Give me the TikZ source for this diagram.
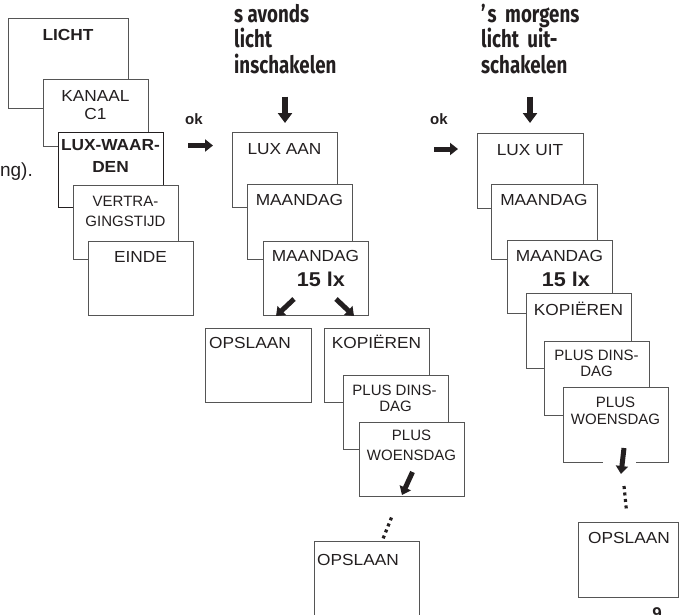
\documentclass[tikz,border=0pt]{standalone}
\usepackage{fontspec}
\setmainfont{Liberation Sans}
\newfontfamily\boxf{Liberation Sans}[FakeStretch=1.08]
\newfontfamily\plainf{Liberation Sans}
\newfontfamily\headf{Fira Sans}[FakeStretch=0.78]
\usetikzlibrary{arrows.meta}
\definecolor{ink}{HTML}{231F20}
\definecolor{frame}{HTML}{555555}
\tikzset{
 panel/.style={draw=frame, line width=0.9pt, fill=white, inner sep=0pt, anchor=north west},
 keypanel/.style={panel, draw=ink, line width=1.1pt},
 big/.style={inner sep=0pt, anchor=base, text=ink, font=\boxf\fontsize{16}{18}\selectfont},
 bigb/.style={big, font=\boxf\bfseries\fontsize{16}{18}\selectfont},
 small/.style={big, font=\plainf\fontsize{15}{17}\selectfont},
 lux/.style={big, font=\boxf\bfseries\fontsize{20}{24}\selectfont},
 head/.style={inner sep=0pt, anchor=base west, text=ink, font=\headf\bfseries\fontsize{24}{25.5}\selectfont},
 okl/.style={inner sep=0pt, anchor=base west, text=ink, font=\plainf\bfseries\fontsize{15}{18}\selectfont},
 fatarrow/.style={draw=ink, line width=5pt, -{Triangle[length=8pt,width=12pt]}},
 downarrow/.style={draw=ink, line width=6.5pt, -{Triangle[length=10pt,width=14pt]}},
 dotline/.style={draw=ink, line width=3.2pt, dash pattern=on 3pt off 3.5pt},
}
\begin{document}
\begin{tikzpicture}[x=1pt,y=-1pt]
\useasboundingbox (0,0) rectangle (679,614);
\clip (0,0) rectangle (679,614);

% partial text at left edge
\node[inner sep=0pt, anchor=base east, text=ink, font=\plainf\fontsize{19}{22}\selectfont] (ng) at (33,176) {ng).};

% ---------- left stack ----------
\node[panel, minimum width=120pt, minimum height=90pt] (L1) at (8,18) {};
\node[bigb] (L1a) at (68,40.5) {LICHT};
\node[panel, minimum width=105pt, minimum height=67pt] (L2) at (43,79) {};
\node[big] (L2a) at (95.5,101.5) {KANAAL};
\node[big] (L2b) at (95.5,119.5) {C1};
\node[keypanel, minimum width=105pt, minimum height=75pt] (L3) at (58,132) {};
\node[bigb] (L3a) at (110.5,150) {LUX-WAAR-};
\node[bigb] (L3b) at (110.5,172) {DEN};
\node[panel, minimum width=105pt, minimum height=74pt] (L4) at (73,185) {};
\node[small] (L4a) at (125.5,206.5) {VERTRA-};
\node[small] (L4b) at (125.5,226.5) {GINGSTIJD};
\node[panel, minimum width=105pt, minimum height=74pt] (L5) at (88,241) {};
\node[big] (L5a) at (140.5,262) {EINDE};

% ok arrows
\node[okl] (ok1) at (185,124) {ok};
\coordinate (ok1s) at (188,145.5);
\coordinate (ok1e) at (213,145.5);
\draw[fatarrow] (ok1s) -- (ok1e);
\node[okl] (ok2) at (430,124.5) {ok};
\coordinate (ok2s) at (434,149);
\coordinate (ok2e) at (458,149);
\draw[fatarrow] (ok2s) -- (ok2e);

% ---------- middle column ----------
\node[head, align=left] (H1) at (234,73) {s avonds\\licht\\inschakelen};
\coordinate (d1s) at (285,96.5);
\coordinate (d1e) at (285,123);
\draw[downarrow] (d1s) -- (d1e);

\node[panel, minimum width=105pt, minimum height=75pt] (M1) at (232,132) {};
\node[big] (M1a) at (284.5,154) {LUX AAN};
\node[panel, minimum width=105pt, minimum height=75pt] (M2) at (247,184) {};
\node[big] (M2a) at (299.5,205.5) {MAANDAG};
\node[panel, minimum width=105pt, minimum height=74pt] (M3) at (263,241) {};
\node[big] (M3a) at (315.5,261.5) {MAANDAG};
\node[lux] (M3b) at (321,286) {15 lx};
\coordinate (a1s) at (294,299);
\coordinate (a1e) at (276,316);
\draw[fatarrow] (a1s) -- (a1e);
\coordinate (a2s) at (336,299);
\coordinate (a2e) at (354,316);
\draw[fatarrow] (a2s) -- (a2e);

\node[panel, minimum width=106pt, minimum height=74pt] (M4) at (205,328) {};
\node[big, anchor=base west] (M4a) at (209,348) {OPSLAAN};
\node[panel, minimum width=105pt, minimum height=74pt] (M5) at (324,328) {};
\node[big] (M5a) at (376.5,348) {KOPIËREN};
\node[panel, minimum width=105pt, minimum height=74pt] (M6) at (343,375) {};
\node[small] (M6a) at (394.5,395) {PLUS DINS-};
\node[small] (M6b) at (395.5,411.5) {DAG};
\node[panel, minimum width=105pt, minimum height=74pt] (M7) at (359,422) {};
\node[small] (M7a) at (411.5,440) {PLUS};
\node[small] (M7b) at (411.5,460) {WOENSDAG};
\coordinate (a3s) at (412.5,472);
\coordinate (a3e) at (402,495);
\draw[fatarrow] (a3s) -- (a3e);
\coordinate (p1s) at (391.5,517.5);
\coordinate (p1e) at (382.5,540);
\draw[dotline] (p1s) -- (p1e);
\node[panel, minimum width=105pt, minimum height=110pt] (M8) at (314,541) {};
\node[big, anchor=base west] (M8a) at (317,565) {OPSLAAN};

% ---------- right column ----------
\node[head, align=left] (H2) at (481,73) {’\hspace{2pt}s\hspace{4pt} morgens\\licht\hspace{4pt} uit-\\schakelen};
\coordinate (d2s) at (530,96.5);
\coordinate (d2e) at (530,123);
\draw[downarrow] (d2s) -- (d2e);

\node[panel, minimum width=106pt, minimum height=75pt] (R1) at (477,133) {};
\node[big] (R1a) at (530,155) {LUX UIT};
\node[panel, minimum width=106pt, minimum height=75pt] (R2) at (491,184) {};
\node[big] (R2a) at (544,205.5) {MAANDAG};
\node[panel, minimum width=105pt, minimum height=73pt] (R3) at (507,240) {};
\node[big] (R3a) at (559.5,261.5) {MAANDAG};
\node[lux] (R3b) at (566,286) {15 lx};
\node[panel, minimum width=105pt, minimum height=75pt] (R4) at (526,293) {};
\node[big] (R4a) at (578.5,315.5) {KOPIËREN};
\node[panel, minimum width=105pt, minimum height=74pt] (R5) at (544,341) {};
\node[small] (R5a) at (596.5,360) {PLUS DINS-};
\node[small] (R5b) at (596.5,376.5) {DAG};
\node[panel, minimum width=105pt, minimum height=75pt] (R6) at (563,387) {};
\node[small] (R6a) at (615.5,407.5) {PLUS};
\node[small] (R6b) at (615.5,424) {WOENSDAG};
\fill[white] (603,458) rectangle (636,466);
\coordinate (a4s) at (624,448);
\coordinate (a4e) at (621,474);
\draw[fatarrow] (a4s) -- (a4e);
\coordinate (p2s) at (624,486);
\coordinate (p2e) at (626.5,511);
\draw[dotline] (p2s) -- (p2e);
\node[panel, minimum width=100pt, minimum height=75pt] (R7) at (578,522) {};
\node[big] (R7a) at (629,543) {OPSLAAN};

\node[inner sep=0pt, anchor=base, text=ink, font=\plainf\bfseries\fontsize{17}{20}\selectfont] (pg) at (657,619) {9};
\end{tikzpicture}
\end{document}
